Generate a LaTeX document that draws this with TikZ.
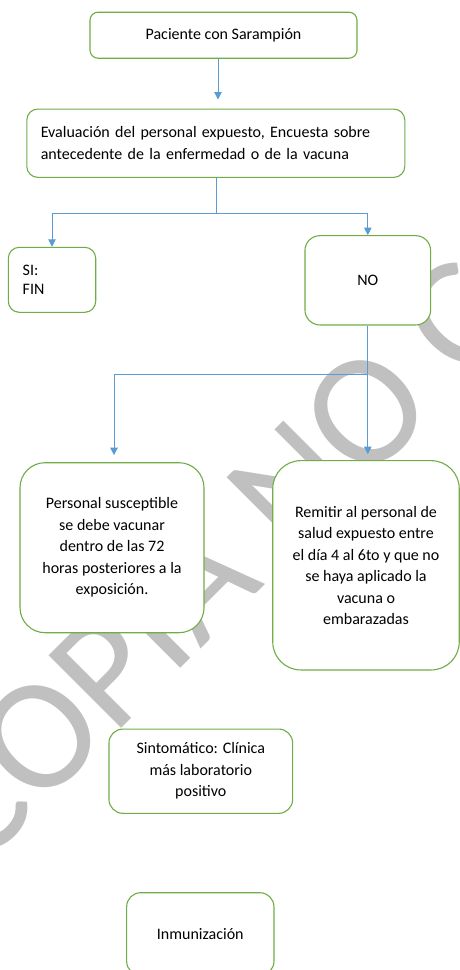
\documentclass[tikz,border=0pt]{standalone}
\usepackage{fontspec}
\setmainfont{Carlito}
\usetikzlibrary{arrows.meta,calc}
\definecolor{boxgreen}{HTML}{70AD47}
\definecolor{arrowblue}{HTML}{5B9BD5}
\definecolor{wmgray}{HTML}{C0C0C0}

\begin{document}
\begin{tikzpicture}[x=1pt,y=1pt,
  box/.style={draw=boxgreen, line width=1.1pt, fill=white,
    rounded corners=#1, inner sep=0pt, align=center,
    font=\fontsize{16}{21.5}\selectfont},
  link/.style={draw=arrowblue, line width=1pt},
  arr/.style={link, -{Triangle[width=7.5pt,length=7.5pt]}},
  watermark/.style={text=wmgray, font=\fontsize{160}{160}\selectfont,
    inner sep=0pt, rotate=45, anchor=base west}
]
\useasboundingbox (0,0) rectangle (459,-970);
\fill[white] (0,0) rectangle (459,-970);

% watermark behind the chart
\node[watermark] (wm) at (-21,-870.5) {COPIA NO CONTROLADA};

% boxes
\node[box=8, minimum width=267pt, minimum height=46pt] (pac) at (223.5,-35.2)
  {Paciente con Sarampión};
\node[box=11, align=left, text width=350pt, inner xsep=14pt,
  minimum height=68.3pt] (eval) at (215.8,-143.2)
  {Evaluación del personal expuesto, Encuesta sobre\\
   antecedente de la enfermedad o de la vacuna};
\node[box=11, align=left, text width=58.6pt, inner xsep=14.4pt,
  minimum height=65pt, font=\fontsize{16}{19}\selectfont] (si) at (52,-279.8)
  {SI:\\FIN};
\node[box=15, minimum width=125.7pt, minimum height=89.3pt] (no) at (367.8,-280.3)
  {NO};
\node[box=25, minimum width=184pt, minimum height=170pt] (pers) at (112,-547.7)
  {Personal susceptible\\se debe vacunar\\dentro de las 72\\horas posteriores a la\\exposición.};
\node[box=28, minimum width=186.5pt, minimum height=209.3pt] (rem) at (366,-565.3)
  {Remitir al personal de\\salud expuesto entre\\el día 4 al 6to y que no\\se haya aplicado la\\vacuna o\\embarazadas};
\node[box=14, minimum width=183.7pt, minimum height=84.3pt] (sint) at (200.8,-771.2)
  {Sintomático: Clínica\\más laboratorio\\positivo};
\node[box=14, minimum width=147.3pt, minimum height=82.6pt] (inm) at (200.3,-934)
  {Inmunización};

% connectors
\draw[arr, shorten >=9pt] ([xshift=-5.5pt]pac.south) -- ([xshift=-5.5pt]pac.south |- eval.north);

\coordinate (j1) at ($(eval.south)+(0.9,-36)$);
\draw[link] ([xshift=0.9pt]eval.south) -- (j1);
\draw[arr] (j1) -| (si.north);
\draw[arr] (j1) -| (no.north);

\coordinate (j2) at ($(no.south)+(0,-49)$);
\draw[arr, shorten >=6pt] (no.south) -- (no.south |- rem.north);
\draw[arr, shorten >=7pt] (j2) -| ([xshift=2pt]pers.north);
\end{tikzpicture}
\end{document}
